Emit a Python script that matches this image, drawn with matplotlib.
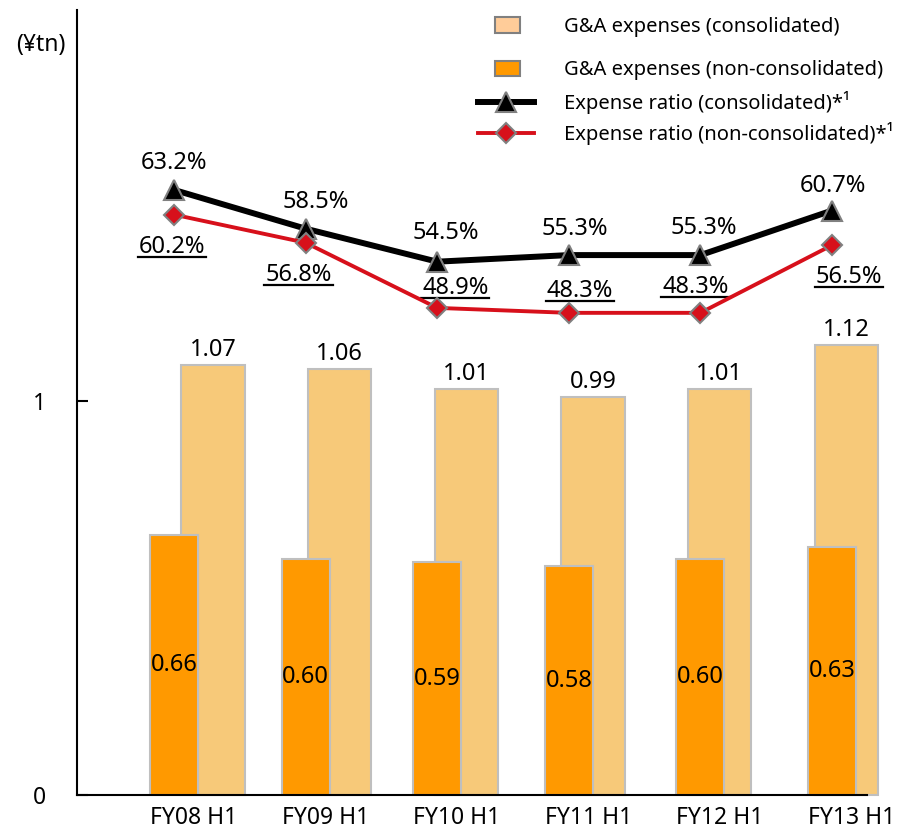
import numpy as np
import matplotlib
matplotlib.use("Agg")
import matplotlib.pyplot as plt
from matplotlib.patches import Patch
from matplotlib.lines import Line2D
from matplotlib.transforms import IdentityTransform

plt.rcParams['font.family'] = ['Noto Sans', 'DejaVu Sans']

# data
periods = ['FY08 H1', 'FY09 H1', 'FY10 H1', 'FY11 H1', 'FY12 H1', 'FY13 H1']
ga_consolidated = [1.07, 1.06, 1.01, 0.99, 1.01, 1.12]
ga_non_consolidated = [0.66, 0.60, 0.59, 0.58, 0.60, 0.63]
ratio_consolidated = [63.2, 58.5, 54.5, 55.3, 55.3, 60.7]
ratio_non_consolidated = [60.2, 56.8, 48.9, 48.3, 48.3, 56.5]

# label offsets in pixels (dx, dy) relative to the markers
black_offsets = [(0, 27), (10, 27), (9, 29), (6, 26), (3, 27), (1, 25)]
red_offsets = [(-2, -32), (-7, -32), (18, 20), (11, 22), (-5, 26), (17, -32)]

light_color = '#F7C979'
orange_color = '#FF9900'
edge_gray = '#BFBFBF'
red_color = '#D7101B'
label_size = 17

W, H = 897, 831
fig = plt.figure(figsize=(W / 100, H / 100), dpi=100)
rect = [77 / W, 36 / H, 790 / W, 785 / H]
x = np.arange(len(periods))

# consolidated bars (own secondary scale, drawn behind)
ax_light = fig.add_axes(rect, zorder=1)
ax_light.bar(x, ga_consolidated, width=0.5, color=light_color,
             edgecolor=edge_gray, linewidth=1.5, clip_on=False)
ax_light.set_xlim(-1.073, 5.162)
ax_light.set_ylim(0, 1.953)
ax_light.axis('off')
for xi, v in zip(x, ga_consolidated):
    ax_light.annotate(f'{v:.2f}', (xi, v), xytext=(0, 15),
                      textcoords='offset pixels', ha='center', va='center',
                      fontsize=label_size)

# non-consolidated bars (main axis)
ax = fig.add_axes(rect, zorder=2)
ax.patch.set_visible(False)
ax.bar(x, ga_non_consolidated, width=0.365, color=orange_color,
       edgecolor=edge_gray, linewidth=1.5)
ax.set_xlim(-0.737, 5.266)
ax.set_ylim(0, 1.992)
for xi, v in zip(x, ga_non_consolidated):
    ax.text(xi, v / 2, f'{v:.2f}', ha='center', va='center',
            fontsize=label_size)

ax.spines['top'].set_visible(False)
ax.spines['right'].set_visible(False)
ax.spines['left'].set_linewidth(1.5)
ax.spines['bottom'].set_linewidth(1.5)
ax.set_xticks(x + 0.15)
ax.set_xticklabels(periods, fontsize=16.5)
ax.tick_params(axis='x', length=0, pad=8)
ax.set_yticks([0, 1])
ax.set_yticklabels(['0', '1'], fontsize=16.5)
ax.tick_params(axis='y', direction='in', length=8, width=1.5, pad=22)

# expense ratio lines (hidden percentage scale)
ax_line = fig.add_axes(rect, zorder=3, sharex=ax)
ax_line.patch.set_visible(False)
ax_line.set_ylim(-10.13, 85.0)
ax_line.axis('off')
ax_line.plot(x, ratio_consolidated, color='black', linewidth=4.3,
             marker='^', markersize=14, markerfacecolor='black',
             markeredgecolor='#808080', markeredgewidth=1.5)
ax_line.plot(x, ratio_non_consolidated, color=red_color, linewidth=2.8,
             marker='D', markersize=9.7, markerfacecolor=red_color,
             markeredgecolor='#808080', markeredgewidth=1.5)

for xi, v, (dx, dy) in zip(x, ratio_consolidated, black_offsets):
    ax_line.annotate(f'{v:.1f}%', (xi, v), xytext=(dx, dy),
                     textcoords='offset pixels', ha='center', va='center',
                     fontsize=label_size)
red_texts = []
for xi, v, (dx, dy) in zip(x, ratio_non_consolidated, red_offsets):
    t = ax_line.annotate(f'{v:.1f}%', (xi, v), xytext=(dx, dy),
                         textcoords='offset pixels', ha='center',
                         va='center', fontsize=label_size)
    red_texts.append(t)

fig.text(41 / W, 1 - 45 / H, '(¥tn)', ha='center', va='center',
         fontsize=16.5)

# legends
patch_handles = [
    Patch(facecolor='#FFCC99', edgecolor='#808080', linewidth=1.5,
          label='G&A expenses (consolidated)'),
    Patch(facecolor=orange_color, edgecolor='#808080', linewidth=1.5,
          label='G&A expenses (non-consolidated)'),
]
leg1 = fig.legend(handles=patch_handles, loc='upper left',
                  bbox_to_anchor=(495 / W, 1 - 17 / H), frameon=False,
                  fontsize=14.5, handlelength=1.25, handleheight=0.78,
                  handletextpad=2.2, labelspacing=1.15, borderpad=0,
                  borderaxespad=0)
line_handles = [
    Line2D([], [], color='black', linewidth=4.3, marker='^', markersize=14,
           markerfacecolor='black', markeredgecolor='#808080',
           markeredgewidth=1.5, label='Expense ratio (consolidated)*¹'),
    Line2D([], [], color=red_color, linewidth=2.8, marker='D', markersize=9.7,
           markerfacecolor=red_color, markeredgecolor='#808080',
           markeredgewidth=1.5, label='Expense ratio (non-consolidated)*¹'),
]
leg2 = fig.legend(handles=line_handles, loc='upper left',
                  bbox_to_anchor=(478 / W, 1 - 91 / H), frameon=False,
                  fontsize=14.5, handlelength=2.8, handletextpad=1.45,
                  labelspacing=0.4, borderpad=0, borderaxespad=0)

# underline the non-consolidated ratio labels
fig.canvas.draw()
for t in red_texts:
    bb = t.get_window_extent()
    y_ul = bb.y0 + 2
    fig.add_artist(Line2D([bb.x0 - 1, bb.x1 + 1], [y_ul, y_ul], color='black',
                          linewidth=1.6, transform=IdentityTransform()))

fig.savefig('out.png', dpi=100)
